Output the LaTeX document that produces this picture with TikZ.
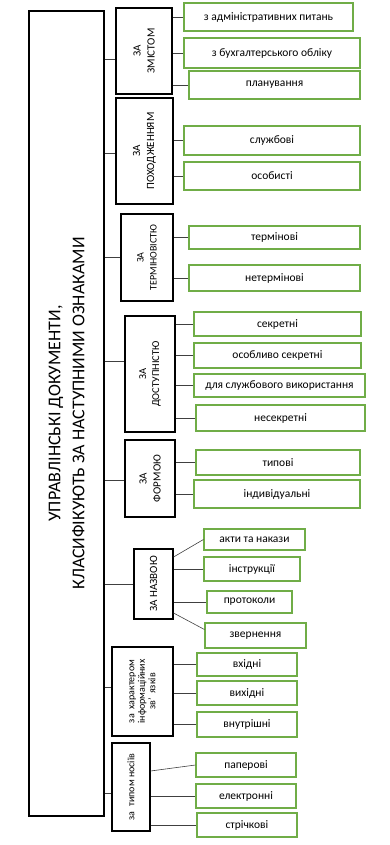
\documentclass[tikz,border=0pt]{standalone}
\usepackage{fontspec}
\setmainfont{Carlito}
\definecolor{leafgreen}{RGB}{112,173,71}
\definecolor{linegray}{RGB}{64,64,64}
\tikzset{
  mainbox/.style={draw=black, line width=1.1pt, inner sep=0pt},
  catbox/.style={draw=black, line width=1.1pt, inner sep=0pt},
  leafbox/.style={draw=leafgreen, line width=1.1pt, inner sep=0pt, font=\fontsize{11.5}{13}\selectfont},
  conn/.style={draw=linegray, line width=0.6pt},
  vtext/.style={rotate=90, align=center, font=\fontsize{11}{14}\selectfont}
}
\begin{document}
\begin{tikzpicture}[x=1pt,y=-1pt]
\useasboundingbox (0,0) rectangle (389,845);

\node[mainbox, minimum width=75pt, minimum height=805pt,
  label={[rotate=90, align=center, font=\fontsize{18}{24}\selectfont]center:УПРАВЛІНСЬКІ ДОКУМЕНТИ,\\КЛАСИФІКУЮТЬ ЗА НАСТУПНИМИ ОЗНАКАМИ}]
  (m) at (66.5,413.5) {};

\node[catbox, minimum width=56pt, minimum height=86pt, label={[vtext]center:ЗА\\ЗМІСТОМ}] (c1) at (144,51) {};
\node[catbox, minimum width=57pt, minimum height=106pt, label={[vtext]center:ЗА\\ПОХОДЖЕННЯМ}] (c2) at (144.5,151) {};
\node[catbox, minimum width=52pt, minimum height=87pt, label={[vtext, font=\fontsize{10}{13}\selectfont]center:ЗА\\ТЕРМІНОВІСТЮ}] (c3) at (147,257.5) {};
\node[catbox, minimum width=50pt, minimum height=116pt, label={[vtext, font=\fontsize{10.5}{13}\selectfont]center:ЗА\\ДОСТУПНІСТЮ}] (c4) at (150,374) {};
\node[catbox, minimum width=50pt, minimum height=77pt, label={[vtext]center:ЗА\\ФОРМОЮ}] (c5) at (150,478.5) {};
\node[catbox, minimum width=39pt, minimum height=70pt, label={[vtext]center:ЗА НАЗВОЮ}] (c6) at (153.5,584) {};
\node[catbox, minimum width=61pt, minimum height=89pt, label={[vtext, font=\fontsize{10}{10.5}\selectfont]center:за\ \ характером\\інформаційних\\зв’\ \ язків}] (c7) at (142.5,691.5) {};
\node[catbox, minimum width=38pt, minimum height=88pt, label={[vtext, font=\fontsize{10}{12}\selectfont]center:за\ \ типом носіїв}] (c8) at (131,787) {};

\node[leafbox, minimum width=169pt, minimum height=28pt] (l1a) at (268.5,17) {з адміністративних питань};
\node[leafbox, minimum width=176pt, minimum height=30pt] (l1b) at (272,53) {з бухгалтерського обліку};
\node[leafbox, minimum width=171pt, minimum height=28pt] (l1c) at (274.5,85) {планування};

\node[leafbox, minimum width=176pt, minimum height=29pt] (l2a) at (272,140.5) {службові};
\node[leafbox, minimum width=176pt, minimum height=28pt] (l2b) at (272,176) {особисті};

\node[leafbox, minimum width=171pt, minimum height=23pt] (l3a) at (274.5,237.5) {термінові};
\node[leafbox, minimum width=171pt, minimum height=26pt] (l3b) at (274.5,278) {нетермінові};

\node[leafbox, minimum width=167pt, minimum height=24pt] (l4a) at (277.5,324) {секретні};
\node[leafbox, minimum width=167pt, minimum height=25pt] (l4b) at (277.5,355.5) {особливо секретні};
\node[leafbox, minimum width=171pt, minimum height=23pt] (l4c) at (279.5,385.5) {для службового використання};
\node[leafbox, minimum width=169pt, minimum height=26pt] (l4d) at (280.5,418) {несекретні};

\node[leafbox, minimum width=164pt, minimum height=25pt] (l5a) at (278,462.5) {типові};
\node[leafbox, minimum width=166pt, minimum height=28pt] (l5b) at (277,494) {індивідуальні};

\node[leafbox, minimum width=101pt, minimum height=21pt] (l6a) at (254.5,539.5) {акти та накази};
\node[leafbox, minimum width=96pt, minimum height=24pt] (l6b) at (252,569) {інструкції};
\node[leafbox, minimum width=85pt, minimum height=22pt] (l6c) at (249.5,602) {протоколи};
\node[leafbox, minimum width=101pt, minimum height=25pt] (l6d) at (255.5,635.5) {звернення};

\node[leafbox, minimum width=100pt, minimum height=23pt] (l7a) at (247,664.5) {вхідні};
\node[leafbox, minimum width=100pt, minimum height=24pt] (l7b) at (247,693) {вихідні};
\node[leafbox, minimum width=100pt, minimum height=25pt] (l7c) at (247,724.5) {внутрішні};

\node[leafbox, minimum width=100pt, minimum height=24pt] (l8a) at (246,765) {паперові};
\node[leafbox, minimum width=100pt, minimum height=24pt] (l8b) at (246,796) {електронні};
\node[leafbox, minimum width=100pt, minimum height=24pt] (l8c) at (247,825) {стрічкові};

\draw[conn] ([yshift=-8pt]c1.west -| m.east) -- ([yshift=-8pt]c1.west);
\draw[conn] ([yshift=-2pt]c2.west -| m.east) -- ([yshift=-2pt]c2.west);
\draw[conn] (c3.west -| m.east) -- (c3.west);
\draw[conn] ([yshift=13pt]c4.west -| m.east) -- ([yshift=13pt]c4.west);
\draw[conn] ([yshift=-2pt]c5.west -| m.east) -- ([yshift=-2pt]c5.west);
\draw[conn] (c6.west -| m.east) -- (c6.west);
\draw[conn] ([yshift=4pt]c7.west -| m.east) -- ([yshift=4pt]c7.west);
\draw[conn] ([yshift=-6pt]c8.west -| m.east) -- ([yshift=-6pt]c8.west);

\draw[conn] (c1.east |- l1a.west) -- (l1a.west);
\draw[conn] (c1.east |- l1b.west) -- (l1b.west);
\draw[conn] (c1.east |- l1c.west) -- (l1c.west);
\draw[conn] (c2.east |- l2a.west) -- (l2a.west);
\draw[conn] (c2.east |- l2b.west) -- (l2b.west);
\draw[conn] (c3.east |- l3a.west) -- (l3a.west);
\draw[conn] (c3.east |- l3b.west) -- (l3b.west);
\draw[conn] (c4.east |- l4a.west) -- (l4a.west);
\draw[conn] (c4.east |- l4b.west) -- (l4b.west);
\draw[conn] (c4.east |- l4c.west) -- (l4c.west);
\draw[conn] (c4.east |- l4d.west) -- (l4d.west);
\draw[conn] (c5.east |- l5a.west) -- (l5a.west);
\draw[conn] (c5.east |- l5b.west) -- (l5b.west);
\draw[conn] ([yshift=27pt]c6.east) -- (l6a.west);
\draw[conn] (c6.east |- l6b.west) -- (l6b.west);
\draw[conn] (c6.east |- l6c.west) -- (l6c.west);
\draw[conn] ([yshift=-29pt]c6.east) -- ([yshift=6pt]l6d.west);
\draw[conn] (c7.east |- l7a.west) -- (l7a.west);
\draw[conn] (c7.east |- l7b.west) -- (l7b.west);
\draw[conn] (c7.east |- l7c.west) -- (l7c.west);
\draw[conn] ([yshift=16pt]c8.east) -- (l8a.west);
\draw[conn] (c8.east |- l8b.west) -- (l8b.west);
\draw[conn] (c8.east |- l8c.west) -- (l8c.west);

\end{tikzpicture}
\end{document}
